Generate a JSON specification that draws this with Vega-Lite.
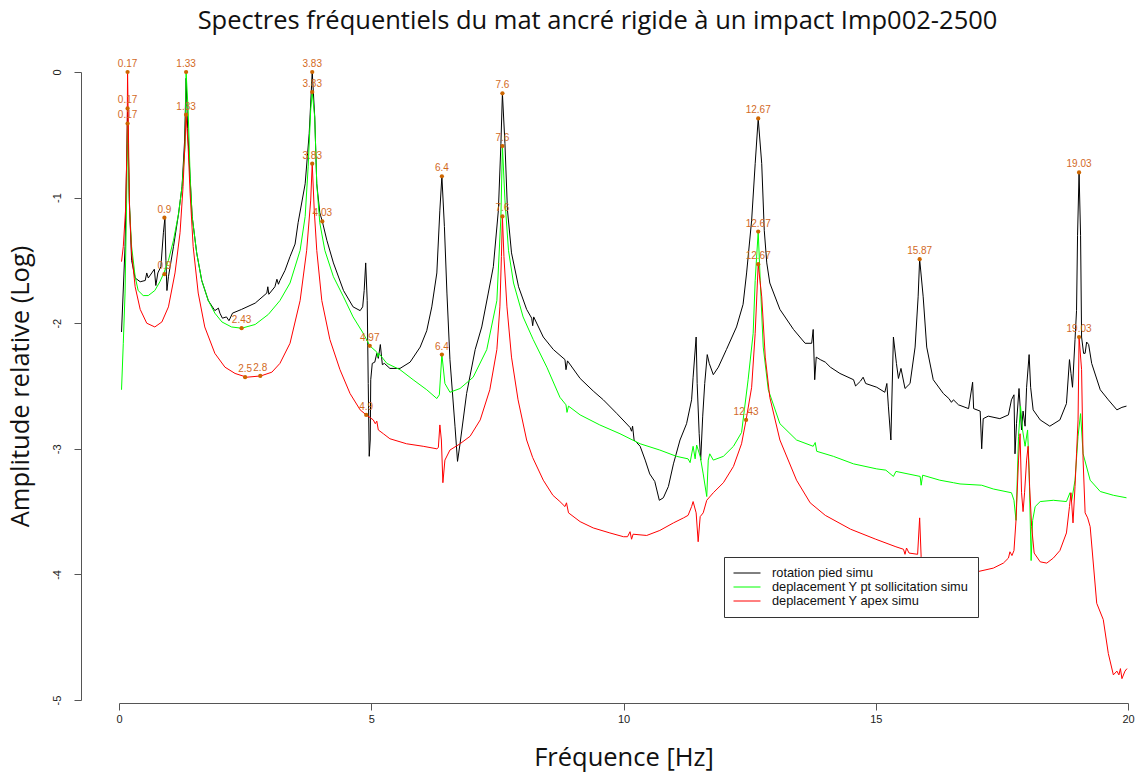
{
"$schema": "https://vega.github.io/schema/vega-lite/v6.json",
"width": 1009, "height": 628,
"autosize": {"type": "none"},
"padding": {"left": 119, "top": 72, "right": 13, "bottom": 74},
"background": "white",
"config": {"view": {"stroke": null}, "font": "Liberation Sans"},
"title": {"text": "Spectres fréquentiels du mat ancré rigide à un impact Imp002-2500", "anchor": "middle", "frame": "group", "dx": -26, "offset": 25, "fontSize": 25.5, "font": "Open Sans", "fontWeight": "normal", "color": "#111"},
"datasets": {
"black": [
{"f":0.05,"a":-2.07},{"f":0.12,"a":-1.39},{"f":0.15,"a":-0.75},{"f":0.17,"a":-0.29},{"f":0.205,"a":-1.02},{"f":0.25,"a":-1.5},{"f":0.32,"a":-1.64},{"f":0.42,"a":-1.67},{"f":0.52,"a":-1.66},{"f":0.55,"a":-1.6},{"f":0.58,"a":-1.64},{"f":0.65,"a":-1.6},{"f":0.7,"a":-1.57},{"f":0.73,"a":-1.7},{"f":0.77,"a":-1.6},{"f":0.83,"a":-1.55},{"f":0.88,"a":-1.28},{"f":0.91,"a":-1.16},{"f":0.93,"a":-1.5},{"f":0.95,"a":-1.74},{"f":0.98,"a":-1.63},{"f":1.08,"a":-1.39},{"f":1.18,"a":-1.13},{"f":1.25,"a":-0.91},{"f":1.3,"a":-0.55},{"f":1.33,"a":-0.05},{"f":1.36,"a":-0.45},{"f":1.41,"a":-0.85},{"f":1.45,"a":-1.15},{"f":1.54,"a":-1.44},{"f":1.64,"a":-1.66},{"f":1.77,"a":-1.82},{"f":1.9,"a":-1.9},{"f":1.97,"a":-1.88},{"f":2.0,"a":-1.92},{"f":2.05,"a":-1.96},{"f":2.13,"a":-1.95},{"f":2.18,"a":-1.98},{"f":2.25,"a":-1.92},{"f":2.43,"a":-1.89},{"f":2.7,"a":-1.84},{"f":2.93,"a":-1.76},{"f":2.95,"a":-1.71},{"f":2.97,"a":-1.77},{"f":3.09,"a":-1.71},{"f":3.13,"a":-1.65},{"f":3.16,"a":-1.69},{"f":3.19,"a":-1.66},{"f":3.29,"a":-1.58},{"f":3.39,"a":-1.47},{"f":3.49,"a":-1.37},{"f":3.55,"a":-1.2},{"f":3.69,"a":-0.89},{"f":3.77,"a":-0.49},{"f":3.83,"a":0},{"f":3.88,"a":-0.36},{"f":3.92,"a":-0.89},{"f":3.98,"a":-1.12},{"f":4.03,"a":-1.19},{"f":4.12,"a":-1.34},{"f":4.25,"a":-1.52},{"f":4.45,"a":-1.74},{"f":4.64,"a":-1.87},{"f":4.78,"a":-1.9},{"f":4.83,"a":-1.87},{"f":4.86,"a":-1.74},{"f":4.89,"a":-1.52},{"f":4.92,"a":-1.82},{"f":4.94,"a":-2.48},{"f":4.96,"a":-3.06},{"f":4.98,"a":-2.93},{"f":4.99,"a":-2.45},{"f":5.02,"a":-2.32},{"f":5.07,"a":-2.31},{"f":5.11,"a":-2.24},{"f":5.14,"a":-2.28},{"f":5.18,"a":-2.17},{"f":5.22,"a":-2.33},{"f":5.26,"a":-2.32},{"f":5.37,"a":-2.36},{"f":5.57,"a":-2.36},{"f":5.77,"a":-2.31},{"f":5.97,"a":-2.19},{"f":6.1,"a":-2.06},{"f":6.2,"a":-1.87},{"f":6.3,"a":-1.6},{"f":6.36,"a":-1.1},{"f":6.4,"a":-0.83},{"f":6.45,"a":-1.23},{"f":6.5,"a":-1.76},{"f":6.56,"a":-2.29},{"f":6.66,"a":-2.82},{"f":6.71,"a":-3.1},{"f":6.76,"a":-2.96},{"f":6.89,"a":-2.56},{"f":7.06,"a":-2.21},{"f":7.19,"a":-2.03},{"f":7.32,"a":-1.76},{"f":7.42,"a":-1.55},{"f":7.52,"a":-1.1},{"f":7.57,"a":-0.57},{"f":7.6,"a":-0.17},{"f":7.65,"a":-0.57},{"f":7.7,"a":-1.1},{"f":7.78,"a":-1.44},{"f":7.92,"a":-1.71},{"f":8.08,"a":-1.89},{"f":8.18,"a":-1.96},{"f":8.2,"a":-2.02},{"f":8.22,"a":-1.95},{"f":8.41,"a":-2.11},{"f":8.61,"a":-2.21},{"f":8.84,"a":-2.29},{"f":8.86,"a":-2.37},{"f":8.89,"a":-2.3},{"f":9.14,"a":-2.44},{"f":9.4,"a":-2.54},{"f":9.6,"a":-2.61},{"f":9.87,"a":-2.72},{"f":10.13,"a":-2.83},{"f":10.16,"a":-2.86},{"f":10.18,"a":-2.82},{"f":10.21,"a":-2.93},{"f":10.26,"a":-2.95},{"f":10.33,"a":-2.98},{"f":10.43,"a":-3.09},{"f":10.52,"a":-3.2},{"f":10.62,"a":-3.26},{"f":10.71,"a":-3.41},{"f":10.79,"a":-3.39},{"f":10.89,"a":-3.3},{"f":10.99,"a":-3.12},{"f":11.12,"a":-2.93},{"f":11.25,"a":-2.8},{"f":11.35,"a":-2.61},{"f":11.38,"a":-2.43},{"f":11.44,"a":-2.11},{"f":11.46,"a":-2.48},{"f":11.5,"a":-2.88},{"f":11.53,"a":-3.09},{"f":11.57,"a":-2.74},{"f":11.61,"a":-2.48},{"f":11.66,"a":-2.25},{"f":11.7,"a":-2.32},{"f":11.78,"a":-2.41},{"f":11.88,"a":-2.35},{"f":12.04,"a":-2.21},{"f":12.24,"a":-2.03},{"f":12.37,"a":-1.85},{"f":12.44,"a":-1.6},{"f":12.54,"a":-1.18},{"f":12.61,"a":-0.73},{"f":12.67,"a":-0.37},{"f":12.74,"a":-0.73},{"f":12.79,"a":-1.26},{"f":12.84,"a":-1.52},{"f":12.9,"a":-1.68},{"f":13.1,"a":-1.89},{"f":13.37,"a":-2.05},{"f":13.6,"a":-2.16},{"f":13.73,"a":-2.16},{"f":13.76,"a":-2.05},{"f":13.79,"a":-2.45},{"f":13.82,"a":-2.27},{"f":13.9,"a":-2.29},{"f":14.0,"a":-2.31},{"f":14.1,"a":-2.35},{"f":14.29,"a":-2.4},{"f":14.56,"a":-2.45},{"f":14.6,"a":-2.5},{"f":14.7,"a":-2.46},{"f":14.75,"a":-2.43},{"f":14.8,"a":-2.48},{"f":15.02,"a":-2.51},{"f":15.18,"a":-2.55},{"f":15.22,"a":-2.48},{"f":15.25,"a":-2.66},{"f":15.3,"a":-2.93},{"f":15.35,"a":-2.11},{"f":15.41,"a":-2.32},{"f":15.45,"a":-2.44},{"f":15.5,"a":-2.36},{"f":15.58,"a":-2.52},{"f":15.68,"a":-2.48},{"f":15.78,"a":-2.19},{"f":15.84,"a":-1.79},{"f":15.87,"a":-1.49},{"f":15.94,"a":-1.79},{"f":16.01,"a":-2.19},{"f":16.14,"a":-2.45},{"f":16.34,"a":-2.56},{"f":16.45,"a":-2.6},{"f":16.5,"a":-2.63},{"f":16.54,"a":-2.61},{"f":16.64,"a":-2.65},{"f":16.84,"a":-2.68},{"f":16.92,"a":-2.47},{"f":16.94,"a":-2.68},{"f":17.07,"a":-2.7},{"f":17.1,"a":-3.0},{"f":17.13,"a":-2.76},{"f":17.23,"a":-2.74},{"f":17.46,"a":-2.76},{"f":17.63,"a":-2.73},{"f":17.69,"a":-2.61},{"f":17.74,"a":-2.57},{"f":17.76,"a":-3.04},{"f":17.79,"a":-2.8},{"f":17.84,"a":-2.52},{"f":17.89,"a":-2.85},{"f":17.92,"a":-2.7},{"f":17.96,"a":-2.82},{"f":17.99,"a":-2.51},{"f":18.04,"a":-2.25},{"f":18.07,"a":-2.51},{"f":18.12,"a":-2.69},{"f":18.26,"a":-2.77},{"f":18.45,"a":-2.82},{"f":18.65,"a":-2.77},{"f":18.78,"a":-2.64},{"f":18.84,"a":-2.29},{"f":18.87,"a":-2.4},{"f":18.9,"a":-2.51},{"f":18.95,"a":-2.13},{"f":18.98,"a":-1.9},{"f":19.0,"a":-1.3},{"f":19.03,"a":-0.8},{"f":19.06,"a":-1.3},{"f":19.08,"a":-2.11},{"f":19.12,"a":-2.24},{"f":19.15,"a":-2.24},{"f":19.18,"a":-2.15},{"f":19.22,"a":-2.17},{"f":19.28,"a":-2.32},{"f":19.45,"a":-2.53},{"f":19.61,"a":-2.61},{"f":19.78,"a":-2.69},{"f":19.88,"a":-2.67},{"f":19.97,"a":-2.66}
],
"green": [
{"f":0.05,"a":-2.53},{"f":0.085,"a":-2.16},{"f":0.12,"a":-1.76},{"f":0.15,"a":-1.05},{"f":0.17,"a":-0.41},{"f":0.205,"a":-1.05},{"f":0.25,"a":-1.39},{"f":0.32,"a":-1.63},{"f":0.38,"a":-1.74},{"f":0.48,"a":-1.78},{"f":0.58,"a":-1.78},{"f":0.71,"a":-1.74},{"f":0.81,"a":-1.67},{"f":0.89,"a":-1.6},{"f":0.98,"a":-1.5},{"f":1.08,"a":-1.34},{"f":1.18,"a":-1.13},{"f":1.25,"a":-0.91},{"f":1.31,"a":-0.59},{"f":1.33,"a":0},{"f":1.37,"a":-0.3},{"f":1.41,"a":-0.83},{"f":1.45,"a":-1.15},{"f":1.54,"a":-1.44},{"f":1.64,"a":-1.66},{"f":1.77,"a":-1.82},{"f":1.9,"a":-1.92},{"f":2.04,"a":-1.99},{"f":2.23,"a":-2.03},{"f":2.43,"a":-2.04},{"f":2.7,"a":-2.01},{"f":2.96,"a":-1.93},{"f":3.19,"a":-1.82},{"f":3.39,"a":-1.68},{"f":3.59,"a":-1.42},{"f":3.69,"a":-1.15},{"f":3.75,"a":-0.75},{"f":3.8,"a":-0.3},{"f":3.83,"a":-0.16},{"f":3.88,"a":-0.36},{"f":3.92,"a":-0.89},{"f":3.98,"a":-1.2},{"f":4.08,"a":-1.42},{"f":4.25,"a":-1.63},{"f":4.45,"a":-1.79},{"f":4.64,"a":-1.95},{"f":4.84,"a":-2.08},{"f":4.97,"a":-2.18},{"f":5.11,"a":-2.23},{"f":5.13,"a":-2.27},{"f":5.15,"a":-2.24},{"f":5.31,"a":-2.32},{"f":5.57,"a":-2.37},{"f":5.83,"a":-2.45},{"f":6.1,"a":-2.53},{"f":6.3,"a":-2.6},{"f":6.35,"a":-2.57},{"f":6.4,"a":-2.25},{"f":6.46,"a":-2.48},{"f":6.56,"a":-2.55},{"f":6.76,"a":-2.52},{"f":7.02,"a":-2.43},{"f":7.29,"a":-2.21},{"f":7.49,"a":-1.82},{"f":7.57,"a":-1.15},{"f":7.6,"a":-0.59},{"f":7.65,"a":-1.02},{"f":7.72,"a":-1.42},{"f":7.82,"a":-1.68},{"f":8.01,"a":-1.95},{"f":8.21,"a":-2.13},{"f":8.48,"a":-2.35},{"f":8.74,"a":-2.59},{"f":8.86,"a":-2.65},{"f":8.88,"a":-2.71},{"f":8.91,"a":-2.66},{"f":9.14,"a":-2.73},{"f":9.53,"a":-2.81},{"f":9.93,"a":-2.88},{"f":10.33,"a":-2.96},{"f":10.72,"a":-3.01},{"f":11.05,"a":-3.06},{"f":11.28,"a":-3.08},{"f":11.32,"a":-3.11},{"f":11.38,"a":-2.98},{"f":11.42,"a":-3.08},{"f":11.45,"a":-2.97},{"f":11.52,"a":-3.06},{"f":11.58,"a":-3.2},{"f":11.65,"a":-3.38},{"f":11.68,"a":-3.09},{"f":11.71,"a":-3.04},{"f":11.78,"a":-3.09},{"f":11.98,"a":-3.06},{"f":12.18,"a":-2.98},{"f":12.34,"a":-2.87},{"f":12.47,"a":-2.45},{"f":12.57,"a":-2.08},{"f":12.61,"a":-1.66},{"f":12.67,"a":-1.27},{"f":12.71,"a":-1.66},{"f":12.77,"a":-2.19},{"f":12.87,"a":-2.53},{"f":13.1,"a":-2.8},{"f":13.43,"a":-2.93},{"f":13.76,"a":-2.98},{"f":13.8,"a":-2.95},{"f":13.83,"a":-3.02},{"f":14.16,"a":-3.06},{"f":14.56,"a":-3.12},{"f":15.02,"a":-3.16},{"f":15.2,"a":-3.17},{"f":15.35,"a":-3.22},{"f":15.4,"a":-3.18},{"f":15.88,"a":-3.22},{"f":15.9,"a":-3.29},{"f":15.93,"a":-3.21},{"f":16.27,"a":-3.25},{"f":16.54,"a":-3.27},{"f":16.67,"a":-3.28},{"f":17.1,"a":-3.29},{"f":17.33,"a":-3.32},{"f":17.69,"a":-3.35},{"f":17.74,"a":-3.41},{"f":17.78,"a":-3.57},{"f":17.83,"a":-2.9},{"f":17.87,"a":-2.66},{"f":17.91,"a":-2.85},{"f":17.96,"a":-2.98},{"f":18.01,"a":-2.85},{"f":18.04,"a":-3.17},{"f":18.08,"a":-3.89},{"f":18.11,"a":-3.57},{"f":18.16,"a":-3.46},{"f":18.26,"a":-3.42},{"f":18.52,"a":-3.41},{"f":18.78,"a":-3.42},{"f":18.85,"a":-3.35},{"f":18.88,"a":-3.42},{"f":18.95,"a":-3.25},{"f":19.01,"a":-2.9},{"f":19.06,"a":-2.72},{"f":19.11,"a":-3.04},{"f":19.25,"a":-3.25},{"f":19.45,"a":-3.34},{"f":19.71,"a":-3.37},{"f":19.97,"a":-3.39}
],
"red": [
{"f":0.05,"a":-1.51},{"f":0.085,"a":-1.39},{"f":0.13,"a":-1.1},{"f":0.16,"a":-0.57},{"f":0.17,"a":0},{"f":0.19,"a":-0.57},{"f":0.21,"a":-1.1},{"f":0.25,"a":-1.44},{"f":0.32,"a":-1.71},{"f":0.42,"a":-1.89},{"f":0.55,"a":-2.0},{"f":0.71,"a":-2.03},{"f":0.85,"a":-1.99},{"f":0.98,"a":-1.87},{"f":1.11,"a":-1.6},{"f":1.21,"a":-1.28},{"f":1.27,"a":-0.91},{"f":1.32,"a":-0.44},{"f":1.33,"a":-0.34},{"f":1.37,"a":-0.59},{"f":1.41,"a":-0.97},{"f":1.47,"a":-1.39},{"f":1.57,"a":-1.76},{"f":1.7,"a":-2.03},{"f":1.9,"a":-2.24},{"f":2.1,"a":-2.35},{"f":2.3,"a":-2.4},{"f":2.53,"a":-2.43},{"f":2.81,"a":-2.42},{"f":3.03,"a":-2.39},{"f":3.19,"a":-2.32},{"f":3.39,"a":-2.16},{"f":3.59,"a":-1.82},{"f":3.72,"a":-1.42},{"f":3.8,"a":-1.02},{"f":3.83,"a":-0.73},{"f":3.87,"a":-1.1},{"f":3.92,"a":-1.42},{"f":4.02,"a":-1.82},{"f":4.18,"a":-2.13},{"f":4.38,"a":-2.37},{"f":4.58,"a":-2.56},{"f":4.78,"a":-2.69},{"f":4.9,"a":-2.73},{"f":5.04,"a":-2.77},{"f":5.08,"a":-2.8},{"f":5.11,"a":-2.78},{"f":5.14,"a":-2.85},{"f":5.24,"a":-2.88},{"f":5.37,"a":-2.92},{"f":5.7,"a":-2.96},{"f":6.03,"a":-2.98},{"f":6.3,"a":-3.0},{"f":6.33,"a":-2.99},{"f":6.36,"a":-2.81},{"f":6.39,"a":-2.93},{"f":6.42,"a":-3.27},{"f":6.46,"a":-3.09},{"f":6.56,"a":-3.01},{"f":6.76,"a":-2.96},{"f":6.96,"a":-2.9},{"f":7.16,"a":-2.77},{"f":7.35,"a":-2.53},{"f":7.49,"a":-2.21},{"f":7.55,"a":-1.87},{"f":7.58,"a":-1.47},{"f":7.6,"a":-1.15},{"f":7.63,"a":-1.47},{"f":7.69,"a":-1.87},{"f":7.78,"a":-2.27},{"f":7.91,"a":-2.61},{"f":8.08,"a":-2.93},{"f":8.2,"a":-3.07},{"f":8.41,"a":-3.25},{"f":8.6,"a":-3.37},{"f":8.74,"a":-3.42},{"f":8.84,"a":-3.46},{"f":8.87,"a":-3.43},{"f":8.91,"a":-3.51},{"f":9.14,"a":-3.58},{"f":9.4,"a":-3.63},{"f":9.73,"a":-3.67},{"f":10.0,"a":-3.7},{"f":10.08,"a":-3.7},{"f":10.13,"a":-3.66},{"f":10.16,"a":-3.72},{"f":10.19,"a":-3.68},{"f":10.46,"a":-3.69},{"f":10.72,"a":-3.65},{"f":10.99,"a":-3.59},{"f":11.19,"a":-3.55},{"f":11.28,"a":-3.53},{"f":11.35,"a":-3.46},{"f":11.38,"a":-3.42},{"f":11.44,"a":-3.51},{"f":11.48,"a":-3.74},{"f":11.52,"a":-3.54},{"f":11.58,"a":-3.51},{"f":11.65,"a":-3.41},{"f":11.78,"a":-3.35},{"f":11.98,"a":-3.27},{"f":12.18,"a":-3.14},{"f":12.34,"a":-2.96},{"f":12.43,"a":-2.77},{"f":12.54,"a":-2.51},{"f":12.61,"a":-2.08},{"f":12.67,"a":-1.53},{"f":12.74,"a":-1.79},{"f":12.81,"a":-2.27},{"f":12.9,"a":-2.59},{"f":13.1,"a":-2.93},{"f":13.43,"a":-3.25},{"f":13.7,"a":-3.43},{"f":14.0,"a":-3.53},{"f":14.5,"a":-3.64},{"f":15.0,"a":-3.72},{"f":15.4,"a":-3.78},{"f":15.55,"a":-3.8},{"f":15.58,"a":-3.84},{"f":15.61,"a":-3.79},{"f":15.66,"a":-3.83},{"f":15.83,"a":-3.84},{"f":15.87,"a":-3.55},{"f":15.9,"a":-3.86},{"f":16.0,"a":-3.91},{"f":16.3,"a":-3.94},{"f":16.67,"a":-3.96},{"f":17.0,"a":-3.98},{"f":17.33,"a":-3.95},{"f":17.53,"a":-3.91},{"f":17.63,"a":-3.87},{"f":17.66,"a":-3.82},{"f":17.7,"a":-3.85},{"f":17.74,"a":-3.81},{"f":17.78,"a":-3.57},{"f":17.83,"a":-3.09},{"f":17.86,"a":-2.88},{"f":17.89,"a":-3.35},{"f":17.92,"a":-3.5},{"f":17.95,"a":-3.35},{"f":17.99,"a":-3.09},{"f":18.02,"a":-2.98},{"f":18.05,"a":-3.3},{"f":18.09,"a":-3.62},{"f":18.14,"a":-3.83},{"f":18.26,"a":-3.9},{"f":18.39,"a":-3.91},{"f":18.52,"a":-3.87},{"f":18.65,"a":-3.81},{"f":18.78,"a":-3.67},{"f":18.84,"a":-3.46},{"f":18.87,"a":-3.35},{"f":18.91,"a":-3.59},{"f":18.95,"a":-3.3},{"f":18.98,"a":-3.04},{"f":19.01,"a":-2.77},{"f":19.03,"a":-2.11},{"f":19.08,"a":-2.37},{"f":19.11,"a":-3.09},{"f":19.15,"a":-3.51},{"f":19.2,"a":-3.55},{"f":19.25,"a":-3.62},{"f":19.38,"a":-4.23},{"f":19.51,"a":-4.36},{"f":19.61,"a":-4.63},{"f":19.71,"a":-4.8},{"f":19.78,"a":-4.77},{"f":19.82,"a":-4.8},{"f":19.85,"a":-4.75},{"f":19.88,"a":-4.83},{"f":19.94,"a":-4.77},{"f":19.98,"a":-4.75}
],
"peaks": [
{"f":0.17,"a":0,"l":"0.17"},{"f":0.17,"a":-0.29,"l":"0.17"},{"f":0.17,"a":-0.41,"l":"0.17"},{"f":0.9,"a":-1.16,"l":"0.9"},{"f":0.9,"a":-1.61,"l":"0.9"},{"f":1.33,"a":0,"l":"1.33"},{"f":1.33,"a":-0.34,"l":"1.33"},{"f":2.43,"a":-2.04,"l":"2.43"},{"f":2.5,"a":-2.43,"l":"2.5"},{"f":2.8,"a":-2.42,"l":"2.8"},{"f":3.83,"a":0,"l":"3.83"},{"f":3.83,"a":-0.16,"l":"3.83"},{"f":3.83,"a":-0.73,"l":"3.83"},{"f":4.03,"a":-1.19,"l":"4.03"},{"f":4.97,"a":-2.18,"l":"4.97"},{"f":4.9,"a":-2.73,"l":"4.9"},{"f":6.4,"a":-0.83,"l":"6.4"},{"f":6.4,"a":-2.25,"l":"6.4"},{"f":7.6,"a":-0.17,"l":"7.6"},{"f":7.6,"a":-0.59,"l":"7.6"},{"f":7.6,"a":-1.15,"l":"7.6"},{"f":12.67,"a":-0.37,"l":"12.67"},{"f":12.67,"a":-1.27,"l":"12.67"},{"f":12.67,"a":-1.53,"l":"12.67"},{"f":12.43,"a":-2.77,"l":"12.43"},{"f":15.87,"a":-1.49,"l":"15.87"},{"f":19.03,"a":-0.8,"l":"19.03"},{"f":19.03,"a":-2.11,"l":"19.03"}
]
},
"encoding": {
"x": {"field": "f", "type": "quantitative", "scale": {"domain": [0, 20], "nice": false, "zero": false},
  "axis": {"title": "Fréquence [Hz]", "values": [0, 5, 10, 15, 20], "grid": false, "offset": 3, "domainColor": "#555", "tickColor": "#555", "tickSize": 7, "labelFontSize": 11, "labelColor": "#222", "labelPadding": 3, "labelFlush": false, "titleFontSize": 25.5, "titleFont": "Open Sans", "titleFontWeight": "normal", "titleColor": "#111", "titlePadding": 21}},
"y": {"field": "a", "type": "quantitative", "scale": {"domain": [-5, 0], "nice": false, "zero": false},
  "axis": {"title": "Amplitude relative (Log)", "values": [0, -1, -2, -3, -4, -5], "labelExpr": "'' + datum.value", "grid": false, "offset": 38, "domainColor": "#555", "tickColor": "#555", "tickSize": 7, "labelFontSize": 11, "labelColor": "#222", "labelAngle": -90, "labelAlign": "center", "labelBaseline": "bottom", "labelPadding": 12, "titleFontSize": 25.5, "titleFont": "Open Sans", "titleFontWeight": "normal", "titleColor": "#111", "titlePadding": 18}}
},
"layer": [
{"data": {"name": "black"}, "mark": {"type": "line", "strokeWidth": 1},
 "encoding": {"color": {"datum": "rotation pied simu", "type": "nominal",
   "scale": {"domain": ["rotation pied simu", "deplacement Y pt sollicitation simu", "deplacement Y apex simu"], "range": ["#000000", "#00ff00", "#ff0000"]},
   "legend": {"orient": "none", "legendX": 605, "legendY": 485, "title": null, "symbolType": "stroke", "symbolSize": 729, "symbolStrokeWidth": 1, "clipHeight": 14, "labelFontSize": 12.8, "labelFont": "Liberation Sans", "labelColor": "#111", "labelOffset": 11, "labelLimit": 400, "strokeColor": "#333", "fillColor": "white", "padding": 9, "rowPadding": 0}}}},
{"data": {"name": "green"}, "mark": {"type": "line", "strokeWidth": 1},
 "encoding": {"color": {"datum": "deplacement Y pt sollicitation simu", "type": "nominal"}}},
{"data": {"name": "red"}, "mark": {"type": "line", "strokeWidth": 1},
 "encoding": {"color": {"datum": "deplacement Y apex simu", "type": "nominal"}}},
{"data": {"name": "peaks"}, "mark": {"type": "point", "filled": true, "size": 18, "color": "#cd6600", "opacity": 1}},
{"data": {"name": "peaks"}, "mark": {"type": "text", "color": "#d2691e", "fontSize": 10, "font": "Liberation Sans", "dy": -8},
 "encoding": {"text": {"field": "l"}}}
]
}
